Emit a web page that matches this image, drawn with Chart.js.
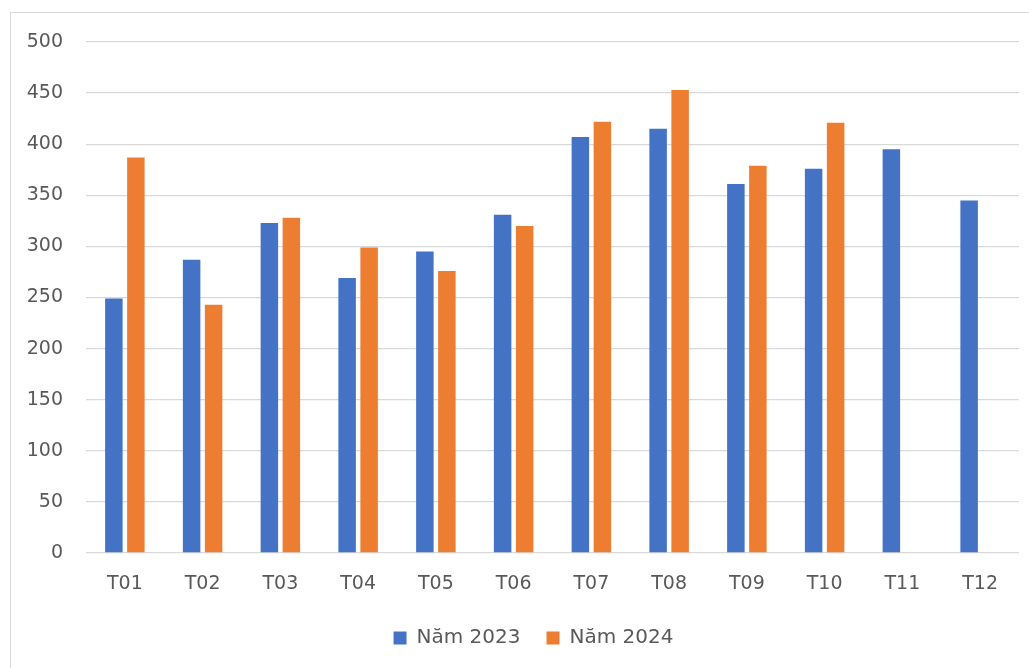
<!DOCTYPE html>
<html>
<head>
<meta charset="utf-8">
<script src="https://cdn.jsdelivr.net/npm/chart.js@4/dist/chart.umd.min.js"></script>
<style>
  html, body { margin: 0; padding: 0; background: #ffffff; }
  #wrap { position: relative; width: 1029px; height: 668px; overflow: hidden; }
  #frame { position: absolute; left: 10px; top: 12px; width: 1040px; height: 680px;
           border: 1px solid #d9d9d9; box-sizing: border-box; pointer-events: none; }
  canvas { position: absolute; left: 0; top: 0; }
</style>
</head>
<body>
<div id="wrap">
  <canvas id="chart" width="1029" height="668"></canvas>
  <div id="frame"></div>
</div>
<script>
// Monthly figures, two years side by side
const months = ['T01', 'T02', 'T03', 'T04', 'T05', 'T06', 'T07', 'T08', 'T09', 'T10', 'T11', 'T12'];
const year2023 = [249, 287, 323, 269, 295, 331, 407, 415, 361, 376, 395, 345];
const year2024 = [387, 243, 328, 299, 276, 320, 422, 453, 379, 421, null, null];
const seriesNames = ['Năm 2023', 'Năm 2024'];
const yMin = 0, yMax = 500, yStep = 50;

const FONT = 'DejaVu Sans';
const TEXT = '#595959';
const GRID = '#d9d9d9';

// Nudge the legend block to the right so it sits under the middle of the plot
const legendShift = {
  id: 'legendShift',
  afterLayout(chart) {
    const lg = chart.legend;
    if (lg) { lg.left += 24; lg.right += 24; }
  }
};

new Chart(document.getElementById('chart'), {
  type: 'bar',
  data: {
    labels: months,
    datasets: [
      { label: seriesNames[0], data: year2023, backgroundColor: '#4472C4',
        categoryPercentage: 0.566, barPercentage: 0.795 },
      { label: seriesNames[1], data: year2024, backgroundColor: '#ED7D31',
        categoryPercentage: 0.566, barPercentage: 0.795 }
    ]
  },
  plugins: [legendShift],
  options: {
    responsive: false,
    animation: false,
    layout: { padding: { left: 0, right: 10, top: 42, bottom: 10 } },
    plugins: {
      tooltip: { enabled: false },
      legend: {
        position: 'bottom',
        labels: {
          boxWidth: 13, boxHeight: 13, padding: 26,
          color: TEXT, font: { family: FONT, size: 20 }
        }
      }
    },
    scales: {
      x: {
        grid: { display: false, drawTicks: false },
        border: { display: false },
        ticks: { color: TEXT, font: { family: FONT, size: 19 }, padding: 20, maxRotation: 0 },
        afterFit: (s) => { s.height = 49; }
      },
      y: {
        min: yMin, max: yMax,
        grid: { color: GRID, lineWidth: 1.3, drawTicks: false },
        border: { display: false },
        ticks: { stepSize: yStep, color: TEXT, font: { family: FONT, size: 19 }, padding: 23 },
        afterFit: (s) => { s.width = 86; }
      }
    }
  }
});
</script>
</body>
</html>
